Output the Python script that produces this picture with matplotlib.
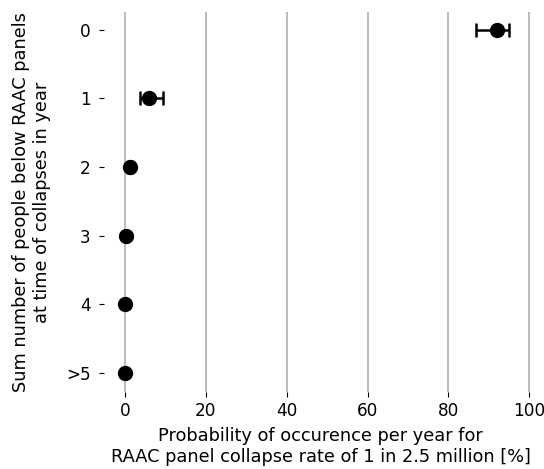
import numpy as np
import matplotlib
matplotlib.use('Agg')
import matplotlib.pyplot as plt

plt.rcParams['font.size'] = 12.8

# Data
categories = ['0', '1', '2', '3', '4', '>5']
prob = [92.0, 5.9, 1.3, 0.3, 0.0, 0.0]
err_low = [5.2, 2.2, 0.5, 0.1, 0.0, 0.0]
err_high = [3.0, 3.4, 0.5, 0.1, 0.0, 0.0]

fig = plt.figure(figsize=(5.44, 4.69), dpi=100)
# data x=0 at 125px, x=100 at 529px, axes from x=104 to 537, y=12 to 392
ax = fig.add_axes([104 / 544, 77 / 469, 433 / 544, 380 / 469])

ypos = np.arange(len(categories))
ax.errorbar(prob, ypos, xerr=[err_low, err_high], fmt='o', color='black',
            markersize=10, capsize=5, elinewidth=1.8, capthick=1.8, zorder=3)

ax.set_yticks(ypos)
ax.set_yticklabels(categories)
ax.set_ylim(5.28, -0.26)
ax.set_xlim(-5.2, 101.9)
ax.set_xticks([0, 20, 40, 60, 80, 100])
ax.tick_params(axis='x', pad=4, labelsize=12.2)
ax.tick_params(axis='y', pad=6, labelsize=12.2)

ax.grid(True, axis='x', color='#b0b0b0', linewidth=1.2)
ax.set_axisbelow(True)
for s in ax.spines.values():
    s.set_visible(False)

ax.set_xlabel('Probability of occurence per year for\nRAAC panel collapse rate of 1 in 2.5 million [%]',
              labelpad=5)
ax.set_ylabel('Sum number of people below RAAC panels\nat time of collapses in year',
              labelpad=11)

fig.savefig('out.png', dpi=100)
